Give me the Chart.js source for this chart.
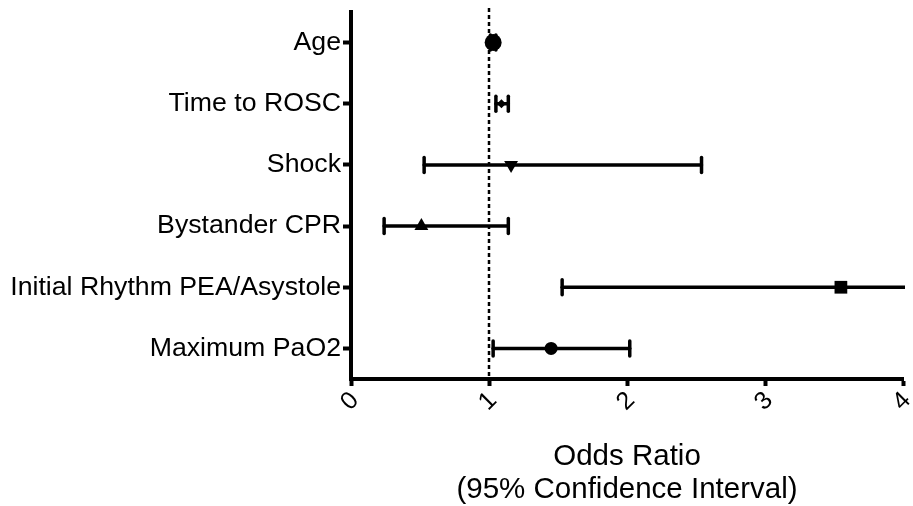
<!DOCTYPE html>
<html>
<head>
<meta charset="utf-8">
<script src="https://cdn.jsdelivr.net/npm/chart.js@4"></script>
<style>
  html, body { margin: 0; padding: 0; background: #fff; }
  #wrap { width: 913px; height: 506px; }
</style>
</head>
<body>
<div id="wrap"><canvas id="forestChart"></canvas></div>
<script>
// Odds ratios with 95% CI
const variables = ['Age', 'Time to ROSC', 'Shock', 'Bystander CPR', 'Initial Rhythm PEA/Asystole', 'Maximum PaO2'];
const oddsRatio = [1.03, 1.09, 1.16, 0.51, 3.55, 1.45];
const ciLower = [1.01, 1.05, 0.53, 0.24, 1.53, 1.03];
const ciUpper = [1.05, 1.14, 2.54, 1.14, 4.6, 2.02];
const xTicks = [0, 1, 2, 3, 4];

const markers = ['circle', 'rectRot', 'triangle', 'triangle', 'rect', 'circle'];
const markerSize = [8.5, 4.5, 8, 8, 9, 6.5];
const markerRotation = [0, 0, 180, 0, 0, 0];

// error bars + reference line, drawn under the markers
const errorBars = {
  id: 'errorBars',
  beforeDatasetsDraw(chart) {
    const ctx = chart.ctx;
    const x = chart.scales.x;
    const y = chart.scales.y;
    const area = chart.chartArea;
    ctx.save();

    // dotted line at OR = 1
    ctx.strokeStyle = '#000';
    ctx.lineWidth = 2.5;
    ctx.setLineDash([4, 3]);
    ctx.beginPath();
    ctx.moveTo(x.getPixelForValue(1), area.top - 4);
    ctx.lineTo(x.getPixelForValue(1), area.bottom);
    ctx.stroke();
    ctx.setLineDash([]);

    ctx.beginPath();
    ctx.rect(area.left, area.top - 20, area.right - area.left + 2, area.bottom - area.top + 40);
    ctx.clip();

    ctx.lineWidth = 3.5;
    ctx.lineCap = 'round';
    variables.forEach((v, i) => {
      const py = y.getPixelForValue(i);
      const x1 = x.getPixelForValue(ciLower[i]);
      const x2 = x.getPixelForValue(ciUpper[i]);
      ctx.beginPath();
      ctx.moveTo(x1, py);
      ctx.lineTo(x2, py);
      ctx.stroke();
      [ciLower[i], ciUpper[i]].forEach(val => {
        if (val > x.max) return;
        const cx = x.getPixelForValue(val);
        ctx.beginPath();
        ctx.moveTo(cx, py - 7.5);
        ctx.lineTo(cx, py + 7.5);
        ctx.stroke();
      });
    });
    ctx.restore();
  }
};

const ctx = document.getElementById('forestChart').getContext('2d');
new Chart(ctx, {
  type: 'scatter',
  data: {
    datasets: [{
      label: 'Odds Ratio',
      data: variables.map((v, i) => ({ x: oddsRatio[i], y: v })),
      pointStyle: markers,
      pointRadius: markerSize,
      pointRotation: markerRotation,
      backgroundColor: '#000',
      borderColor: '#000',
      borderWidth: 0
    }]
  },
  options: {
    responsive: true,
    maintainAspectRatio: false,
    animation: false,
    layout: { padding: { top: 12, right: 10, left: 0, bottom: 0 } },
    plugins: {
      legend: { display: false },
      tooltip: { enabled: false }
    },
    scales: {
      x: {
        type: 'linear',
        min: 0,
        max: 4,
        afterBuildTicks: scale => { scale.ticks = xTicks.map(v => ({ value: v })); },
        afterFit: scale => { scale.height = 127; scale.paddingRight = 0; scale.paddingLeft = 0; },
        grid: { drawOnChartArea: false, drawTicks: true, tickLength: 7, tickWidth: 4, tickColor: '#000' },
        border: { display: true, width: 4, color: '#000' },
        ticks: {
          color: '#000',
          minRotation: 45,
          maxRotation: 45,
          padding: 0,
          labelOffset: 4,
          font: { family: 'Liberation Sans', size: 25 }
        },
        title: {
          display: true,
          text: ['Odds Ratio', '(95% Confidence Interval)'],
          color: '#000',
          padding: { top: 0, bottom: 0 },
          font: { family: 'Liberation Sans', size: 29.5, lineHeight: 1.12 }
        }
      },
      y: {
        type: 'category',
        labels: variables,
        offset: true,
        afterFit: scale => { scale.width = 351; scale.paddingTop = 0; scale.paddingBottom = 0; },
        grid: { drawOnChartArea: false, drawTicks: true, tickLength: 8, tickWidth: 4, tickColor: '#000' },
        border: { display: true, width: 4, color: '#000' },
        ticks: {
          color: '#000',
          padding: 2,
          font: { family: 'Liberation Sans', size: 26.7 }
        }
      }
    }
  },
  plugins: [errorBars]
});
</script>
</body>
</html>
